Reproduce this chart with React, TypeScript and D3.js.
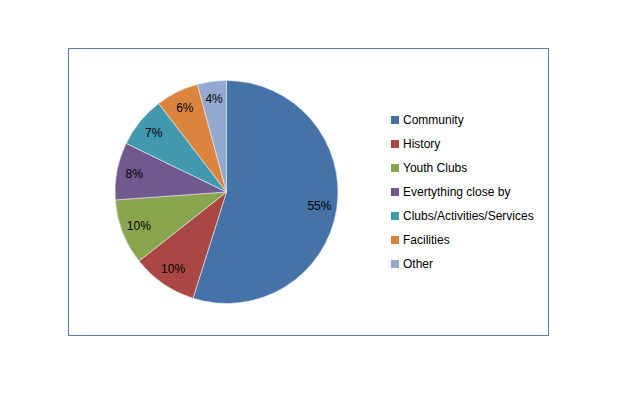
import React, { useEffect, useRef } from "react";
import * as d3 from "d3";

// Data (share of responses)
const categories = [
  "Community",
  "History",
  "Youth Clubs",
  "Evertything close by",
  "Clubs/Activities/Services",
  "Facilities",
  "Other",
];
const values = [54.8, 9.5, 9.5, 8.3, 7.4, 6.2, 4.2];
const colors = ["#4572A7", "#AA4643", "#89A54E", "#71588F", "#4198AF", "#DB843D", "#93A9CF"];

const App = () => {
  const svgRef = useRef<SVGSVGElement>(null);

  useEffect(() => {
    const svg = d3.select(svgRef.current);
    svg.selectAll("*").remove();

    const width = 627;
    const height = 398;
    const font = "'Liberation Sans', Arial, sans-serif";

    svg.append("rect").attr("width", width).attr("height", height).attr("fill", "#fff");

    // chart area border
    svg
      .append("rect")
      .attr("x", 68.5)
      .attr("y", 48.5)
      .attr("width", 480)
      .attr("height", 287)
      .attr("fill", "none")
      .attr("stroke", "#5a7ca4")
      .attr("stroke-width", 1);

    const cx = 226.5;
    const cy = 192;
    const radius = 111.5;

    const data = categories.map((c, i) => ({ name: c, value: values[i], color: colors[i] }));
    const total = d3.sum(values);

    const pie = d3
      .pie<any>()
      .sort(null)
      .value((d) => d.value);
    const arcs = pie(data);

    const arc = d3.arc<any>().innerRadius(0).outerRadius(radius);
    const labelArc = d3.arc<any>().innerRadius(94).outerRadius(94);

    const g = svg.append("g").attr("transform", `translate(${cx},${cy})`);

    g.selectAll("path")
      .data(arcs)
      .enter()
      .append("path")
      .attr("d", arc)
      .attr("fill", (d) => d.data.color)
      .attr("stroke", "#e8ecf2")
      .attr("stroke-width", 0.6);

    g.selectAll("text")
      .data(arcs)
      .enter()
      .append("text")
      .attr("transform", (d) => `translate(${labelArc.centroid(d)})`)
      .attr("text-anchor", "middle")
      .attr("dominant-baseline", "central")
      .style("font-family", font)
      .style("font-size", "12px")
      .attr("fill", "#000")
      .text((d) => `${Math.round((d.data.value / total) * 100)}%`);

    // Legend
    const legend = svg
      .append("g")
      .selectAll("g")
      .data(data)
      .enter()
      .append("g")
      .attr("transform", (d, i) => `translate(391,${120 + i * 24})`);

    legend
      .append("rect")
      .attr("x", 0)
      .attr("y", -4)
      .attr("width", 8)
      .attr("height", 8)
      .attr("fill", (d) => d.color);

    legend
      .append("text")
      .attr("x", 12)
      .attr("y", 0)
      .attr("dominant-baseline", "central")
      .style("font-family", font)
      .style("font-size", "12px")
      .attr("fill", "#000")
      .text((d) => d.name);
  }, []);

  return (
    <svg
      ref={svgRef}
      width={627}
      height={398}
      style={{ position: "absolute", left: 0, top: 0 }}
    ></svg>
  );
};

export default App;
